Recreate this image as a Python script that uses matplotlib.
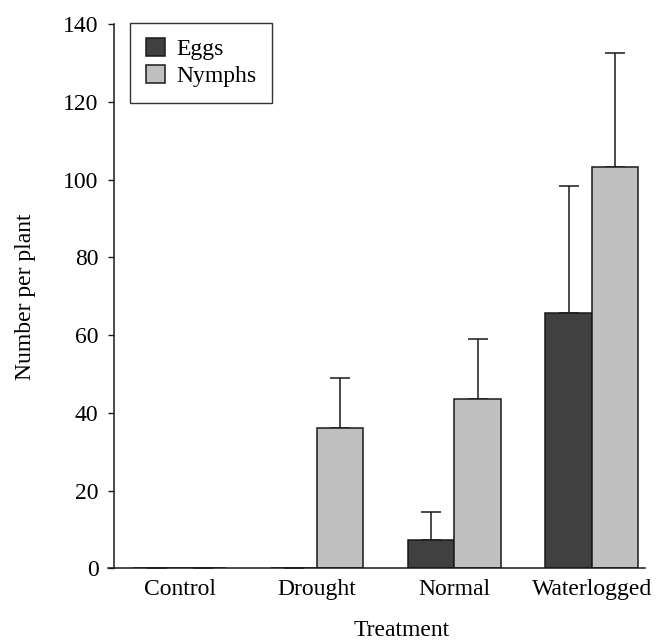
import numpy as np
import matplotlib
matplotlib.use("Agg")
import matplotlib.pyplot as plt

categories = ["Control", "Drought", "Normal", "Waterlogged"]
eggs = [0, 0, 7.3, 65.6]
eggs_err = [np.nan, np.nan, 7.1, 32.9]
nymphs = [0, 36.0, 43.5, 103.2]
nymphs_err = [np.nan, 13.0, 15.6, 29.5]
yticks = [0, 20, 40, 60, 80, 100, 120, 140]

plt.rcParams['font.family'] = ['Liberation Serif', 'DejaVu Serif']
plt.rcParams['font.size'] = 17

fig = plt.figure(figsize=(6.56, 6.40), dpi=100)
ax = fig.add_axes([114/656, 1-568.3/640, 531/656, 544/640])

x = np.arange(len(categories))
w = 0.337
ec = '#1a1a1a'
ax.bar(x - w/2, eggs, w, color='#404040', edgecolor=ec, linewidth=1.1, label='Eggs', zorder=2)
ax.bar(x + w/2, nymphs, w, color='#c0c0c0', edgecolor=ec, linewidth=1.1, label='Nymphs', zorder=2)
ax.errorbar(x - w/2, eggs, yerr=[np.zeros(len(eggs)), eggs_err], fmt='none',
            ecolor=ec, elinewidth=1.1, capsize=7.5, capthick=1.1, zorder=1)
ax.errorbar(x + w/2, nymphs, yerr=[np.zeros(len(nymphs)), nymphs_err], fmt='none',
            ecolor=ec, elinewidth=1.1, capsize=7.5, capthick=1.1, zorder=1)

ax.set_xlim(-0.478, 3.388)
ax.set_ylim(0, 140)
ax.set_yticks(yticks)
ax.set_xticks(x)
ax.set_xticklabels(categories)
ax.tick_params(axis='y', direction='out', length=4.2, width=1.0, pad=7, color=ec)
ax.tick_params(axis='x', length=0, pad=8)
for s in ['top', 'right']:
    ax.spines[s].set_visible(False)
for s in ['left', 'bottom']:
    ax.spines[s].set_linewidth(1.1)
    ax.spines[s].set_color(ec)
    ax.spines[s].set_zorder(3)
ax.spines['bottom'].set_bounds(-0.478 - 6/137.3, 3.388)
ax.spines['bottom'].set_clip_on(False)

ax.set_ylabel('Number per plant')
ax.yaxis.set_label_coords(-0.146, 0.5)
ax.set_xlabel('Treatment')
ax.xaxis.set_label_coords(0.542, -0.095)

leg = ax.legend(loc='upper left', bbox_to_anchor=(0.031, 1.003), borderaxespad=0,
                fancybox=False, frameon=True, handlelength=0.8, handleheight=0.8,
                handletextpad=0.5, borderpad=0.65, labelspacing=0.2, fontsize=17)
leg.get_frame().set_edgecolor('black')
leg.get_frame().set_linewidth(1.0)

fig.savefig('out.png', dpi=100)
